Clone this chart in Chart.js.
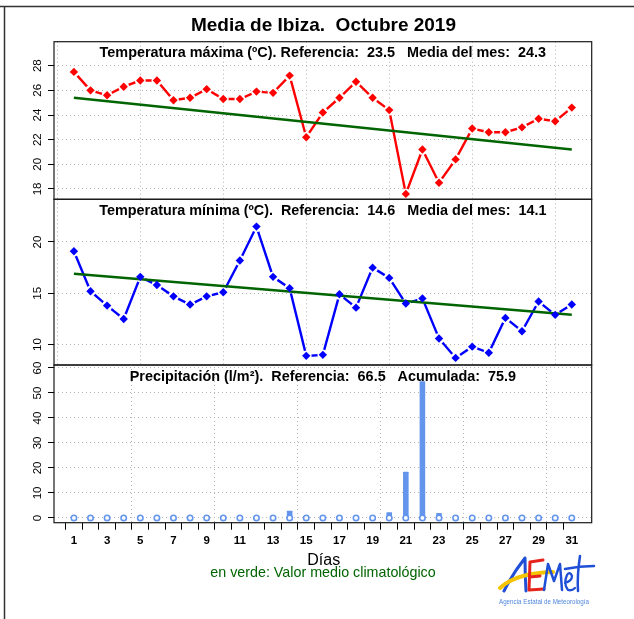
<!DOCTYPE html>
<html lang="es">
<head>
<meta charset="UTF-8">
<title>Media de Ibiza. Octubre 2019</title>
<script src="https://cdn.jsdelivr.net/npm/chart.js"></script>
<style>
  body { margin: 0; background: #fff; }
  #page { position: relative; width: 634px; height: 619px; overflow: hidden; font-family: "Liberation Sans", Arial, sans-serif; }
  .panel { position: absolute; left: 0; width: 634px; }
  #overlay { position: absolute; left: 0; top: 0; pointer-events: none; }
</style>
</head>
<body>
<div id="page">
  <div class="panel" id="p1"><canvas></canvas></div>
  <div class="panel" id="p2"><canvas></canvas></div>
  <div class="panel" id="p3"><canvas></canvas></div>
  <svg id="overlay" width="634" height="619" font-family="Liberation Sans, Arial, sans-serif">
    <path d="M0 6.5 H634 M4.5 6.5 V619" stroke="#333" stroke-width="1.5" fill="none"/>
    <text x="323.5" y="31" text-anchor="middle" font-size="19" font-weight="bold" style="white-space:pre">Media de Ibiza.  Octubre 2019</text>
    <text x="323.7" y="565" text-anchor="middle" font-size="16">Días</text>
    <text x="323" y="577" text-anchor="middle" font-size="14.3" fill="#006400">en verde: Valor medio climatológico</text>
    <!-- logo -->
    <g fill="none" stroke-linecap="round" stroke-linejoin="round">
      <path d="M504 591 Q513 573 525 558 Q525 575 526 591" stroke="#1f4fd6" stroke-width="3"/>
      <path d="M500 588 Q516 573 553 572" stroke="#f5c400" stroke-width="4"/>
      <path d="M543 560 L530 562 L529 590 L544 589 M530 577 L540 576" stroke="#e5231b" stroke-width="3"/>
      <path d="M544 590 L548 564 L554 581 L560 564 L562 590" stroke="#1f4fd6" stroke-width="2.5"/>
      <path d="M565 583 Q572 581 572 576 Q570 571 567 575 Q563 584 568 590 Q572 591 575 588" stroke="#1f4fd6" stroke-width="2.3"/>
      <path d="M580 556 Q577 575 578 591 M565 569 Q579 566 594 566" stroke="#1f4fd6" stroke-width="2.5"/>
    </g>
    <text x="544" y="604" text-anchor="middle" font-size="8" fill="#4f86dc" textLength="90" lengthAdjust="spacingAndGlyphs">Agencia Estatal de Meteorología</text>
  </svg>
</div>
<script>
// datos del mes (dia 1..31)
const days = [1, 2, 3, 4, 5, 6, 7, 8, 9, 10, 11, 12, 13, 14, 15, 16, 17, 18, 19, 20, 21, 22, 23, 24, 25, 26, 27, 28, 29, 30, 31];
const tmax = [27.5, 26.0, 25.6, 26.3, 26.8, 26.8, 25.2, 25.4, 26.1, 25.3, 25.3, 25.9, 25.8, 27.2, 22.2, 24.2,
              25.4, 26.7, 25.4, 24.4, 17.6, 21.2, 18.5, 20.4, 22.9, 22.6, 22.6, 23.0, 23.7, 23.5, 24.6];
const tmin = [19.1, 15.2, 13.8, 12.5, 16.6, 15.8, 14.7, 13.9, 14.7, 15.1, 18.2, 21.5, 16.6, 15.5, 8.9, 9.0,
              14.9, 13.6, 17.5, 16.5, 14.0, 14.5, 10.6, 8.7, 9.8, 9.2, 12.6, 11.3, 14.2, 12.9, 13.9];
const precip = [0, 0, 0, 0, 0, 0, 0, 0, 0, 0, 0, 0, 0, 2.0, 0, 0,
                0, 0, 0, 1.4, 17.6, 53.8, 1.1, 0, 0, 0, 0, 0, 0, 0, 0];
// valor medio climatologico (recta verde)
const climaDays = [1, 31];
const tmaxClima = [25.4, 21.2];
const tminClima = [16.9, 12.9];

const tmaxTicks = [18, 20, 22, 24, 26, 28];
const tminTicks = [10, 15, 20];
const precipTicks = [0, 10, 20, 30, 40, 50, 60];
const gridDays = [0, 5, 10, 15, 20, 25, 30];
const labelDays = [1, 3, 5, 7, 9, 11, 13, 15, 17, 19, 21, 23, 25, 27, 29, 31];

const PLOT_LEFT = 54, PLOT_RIGHT = 591.7;
const GRID = '#b4b4b4';
const FONT = '"Liberation Sans", Arial, sans-serif';

const panelDecor = {
  id: 'panelDecor',
  afterDraw(chart, args, opts) {
    const { ctx, chartArea: a } = chart;
    const y = chart.scales.y;
    ctx.save();
    ctx.strokeStyle = '#1a1a1a';
    ctx.lineWidth = 1.2;
    ctx.strokeRect(a.left, a.top, a.right - a.left, a.bottom - a.top);
    ctx.fillStyle = '#000';
    ctx.textAlign = 'center';
    ctx.textBaseline = 'alphabetic';
    ctx.font = 'bold 14.4px ' + FONT;
    ctx.fillText(opts.text, (a.left + a.right) / 2, a.top + 15.5);
    // etiquetas del eje y giradas
    ctx.font = '11.5px ' + FONT;
    ctx.textBaseline = 'middle';
    y.ticks.forEach(t => {
      ctx.save();
      ctx.translate(37.8, y.getPixelForValue(t.value));
      ctx.rotate(-Math.PI / 2);
      ctx.fillText(String(t.value), 0, 0);
      ctx.restore();
    });
    ctx.restore();
  }
};

function pts(vals) {
  return days.map((d, i) => ({ x: d, y: vals[i] }));
}
function clima(vals) {
  return climaDays.map((d, i) => ({ x: d, y: vals[i] }));
}

function tempSets(vals, ref, color) {
  return [
    { type: 'line', data: pts(vals), showLine: false, pointStyle: 'rectRot', pointRadius: 4.2,
      pointBackgroundColor: color, pointBorderWidth: 0, order: 0 },
    { type: 'line', data: clima(ref), borderColor: '#006400', borderWidth: 2.6, pointRadius: 0, order: 1 },
    { type: 'line', data: pts(vals), showLine: false, pointStyle: 'circle', pointRadius: 5.4,
      pointBackgroundColor: '#fff', pointBorderWidth: 0, order: 2 },
    { type: 'line', data: pts(vals), borderColor: color, borderWidth: 2.4, pointRadius: 0, order: 3 }
  ];
}

function panel(id, top, bottom, withAxis, yMin, yMax, yTicks, subtitle, datasets) {
  const holder = document.getElementById(id);
  const cTop = Math.floor(top) - 8;
  const cH = Math.ceil(bottom) + (withAxis ? 40 : 8) - cTop;
  holder.style.top = cTop + 'px';
  holder.style.height = cH + 'px';
  const axisH = withAxis ? 30 : 0;
  const padBottom = cTop + cH - bottom - axisH;

  new Chart(holder.querySelector('canvas'), {
    type: 'line',
    data: { datasets: datasets },
    options: {
      responsive: true,
      maintainAspectRatio: false,
      animation: false,
      layout: { padding: { left: 0, right: 634 - PLOT_RIGHT, top: top - cTop, bottom: padBottom } },
      plugins: {
        legend: { display: false },
        tooltip: { enabled: false },
        panelDecor: { text: subtitle }
      },
      scales: {
        x: {
          type: 'linear', min: -0.2, max: 32.2, offset: false,
          afterBuildTicks: s => { s.ticks = [0].concat(days).map(v => ({ value: v })); },
          afterFit: s => { s.height = axisH; },
          grid: {
            color: c => (c.tick && gridDays.includes(c.tick.value)) ? GRID : 'rgba(0,0,0,0)',
            drawTicks: withAxis, tickLength: 7, tickWidth: 1, tickBorderDash: [],
            tickColor: c => (c.tick && c.tick.value >= 1) ? '#000' : 'rgba(0,0,0,0)'
          },
          border: { display: false, dash: [1, 3] },
          ticks: {
            display: withAxis, autoSkip: false, maxRotation: 0, minRotation: 0, padding: 4, color: '#000',
            font: { family: FONT, size: 11.5, weight: 'bold' },
            callback: v => labelDays.includes(v) ? String(v) : ''
          }
        },
        y: {
          min: yMin, max: yMax,
          afterBuildTicks: s => { s.ticks = yTicks.map(v => ({ value: v })); },
          afterFit: s => { s.width = PLOT_LEFT; },
          grid: { color: GRID, tickLength: 6, tickWidth: 1, tickColor: '#000', tickBorderDash: [] },
          border: { display: false, dash: [1, 3] },
          ticks: { display: false }
        }
      }
    },
    plugins: [panelDecor]
  });
}

panel('p1', 41.7, 199.3, false, 17.16, 29.95, tmaxTicks,
  'Temperatura máxima (ºC). Referencia:  23.5   Media del mes:  24.3',
  tempSets(tmax, tmaxClima, '#ff0000'));

panel('p2', 199.3, 365, false, 8.01, 24.16, tminTicks,
  'Temperatura mínima (ºC).  Referencia:  14.6   Media del mes:  14.1',
  tempSets(tmin, tminClima, '#0000ff'));

panel('p3', 365, 522.7, true, -1.9, 61.2, precipTicks,
  'Precipitación (l/m²).  Referencia:  66.5   Acumulada:  75.9',
  [
    { type: 'line', data: days.map(d => ({ x: d, y: 0 })), showLine: false, pointStyle: 'circle',
      pointRadius: 2.7, pointBorderWidth: 1.6, pointBorderColor: '#6495ed', pointBackgroundColor: '#fff', order: 0 },
    // barras finas con extremos redondeados (como una linea gruesa)
    { type: 'bar', data: pts(precip).filter(p => p.y > 0), backgroundColor: '#6495ed',
      barThickness: 1, inflateAmount: 2.3, borderRadius: 2.6, borderSkipped: false, order: 1 }
  ]);
</script>
</body>
</html>
